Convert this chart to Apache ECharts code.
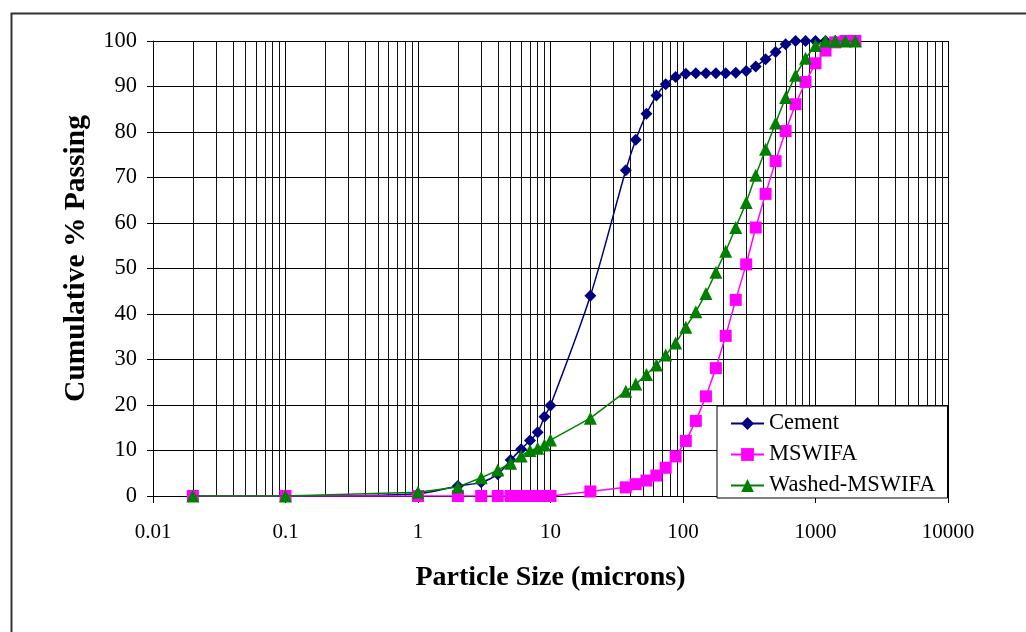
<!DOCTYPE html>
<html>
<head>
<meta charset="utf-8">
<script src="https://cdn.jsdelivr.net/npm/echarts@6/dist/echarts.min.js"></script>
<style>
html,body{margin:0;padding:0;background:#fff;}
#chart{width:1026px;height:632px;}
</style>
</head>
<body>
<div id="chart"></div>
<script>
// Particle sizes (microns)
var sizes = [0.02, 0.1, 1, 2, 3, 4, 5, 6, 7, 8, 9, 10, 20, 37, 44, 53, 63, 74, 88, 105, 125, 149, 177, 210, 250, 300, 354, 420, 500, 595, 707, 841, 1000, 1190, 1410, 1680, 2000];
// Cumulative % passing
var cement = [0, 0, 0.5, 2.2, 3.0, 4.8, 7.9, 10.3, 12.2, 14.0, 17.4, 19.9, 44, 71.6, 78.3, 84, 88, 90.5, 92.1, 92.8, 92.9, 92.9, 92.9, 92.9, 93.0, 93.4, 94.4, 96, 97.6, 99.3, 100, 100, 100, 100, 100, 100, 100];
var mswifa = [0, 0, 0, 0, 0, 0, 0, 0, 0, 0, 0, 0, 1.0, 1.9, 2.6, 3.4, 4.5, 6.2, 8.7, 12.1, 16.5, 21.9, 28.1, 35.2, 43.1, 50.9, 59, 66.4, 73.6, 80.2, 86.1, 91, 95.1, 97.9, 99.7, 100, 100];
var washed = [0, 0, 0.8, 2.0, 4.0, 5.7, 7.2, 8.8, 10.0, 10.5, 11.2, 12.3, 17.1, 23, 24.6, 26.7, 28.8, 31, 33.6, 37.1, 40.5, 44.5, 49.2, 53.8, 59, 64.5, 70.5, 76.2, 82, 87.6, 92.5, 96.2, 99, 100, 100, 100, 100];
var xTickLabels = ['0.01', '0.1', '1', '10', '100', '1000', '10000'];
var yTicks = [0, 10, 20, 30, 40, 50, 60, 70, 80, 90, 100];
var seriesNames = ['Cement', 'MSWIFA', 'Washed-MSWIFA'];

function pairs(ys) { return sizes.map(function (x, i) { return [x, ys[i]]; }); }

// minor vertical grid positions (2..9 of each decade)
var decades = [0.01, 0.1, 1, 10, 100, 1000];
var minorGrid = [];
decades.forEach(function (d) {
  for (var k = 2; k <= 9; k++) minorGrid.push({ xAxis: Number((d * k).toPrecision(6)) });
});

var FONT = 'Liberation Serif';
var chart = echarts.init(document.getElementById('chart'), null, { renderer: 'canvas' });
chart.setOption({
  animation: false,
  backgroundColor: '#fff',
  graphic: [{
    type: 'rect', left: 9, top: 11, z: 0,
    shape: { width: 1040, height: 640 },
    style: { fill: 'none', stroke: '#333', lineWidth: 2 }
  }],
  grid: { left: 153, right: 78, top: 41, bottom: 136 },
  legend: {
    data: seriesNames,
    orient: 'vertical',
    left: 717, top: 406,
    z: 50, zlevel: 0,
    backgroundColor: '#fff',
    borderColor: '#000', borderWidth: 1,
    padding: [6, 12, 1, 13],
    itemGap: 8,
    itemWidth: 33, itemHeight: 16,
    textStyle: { fontFamily: FONT, fontSize: 22.5, color: '#000' }
  },
  xAxis: {
    type: 'log', logBase: 10, min: 0.01, max: 10000,
    name: 'Particle Size (microns)',
    nameLocation: 'middle', nameGap: 68,
    nameTextStyle: { fontFamily: FONT, fontSize: 28, fontWeight: 'bold', color: '#000' },
    axisLine: { show: true, onZero: false, lineStyle: { color: '#000', width: 1 } },
    axisTick: { show: true, length: 7, lineStyle: { color: '#000' } },
    axisLabel: {
      margin: 26, fontFamily: FONT, fontSize: 21, color: '#000',
      formatter: function (v, idx) { return xTickLabels[idx] !== undefined ? xTickLabels[idx] : String(v); }
    },
    splitLine: { show: true, lineStyle: { color: '#000', width: 1 } }
  },
  yAxis: {
    type: 'value', min: 0, max: 100, interval: 10,
    name: 'Cumulative % Passing',
    nameLocation: 'middle', nameGap: 62,
    nameTextStyle: { fontFamily: FONT, fontSize: 29.5, fontWeight: 'bold', color: '#000', padding: [0, 0, 0, 20] },
    axisLine: { show: true, lineStyle: { color: '#000', width: 1 } },
    axisTick: { show: true, length: 6, lineStyle: { color: '#000' } },
    axisLabel: { margin: 16, fontFamily: FONT, fontSize: 22.5, color: '#000' },
    splitLine: { show: true, lineStyle: { color: '#000', width: 1 } }
  },
  series: [
    {
      name: 'minor', type: 'line', data: [], z: 1, silent: true,
      markLine: {
        silent: true, symbol: 'none', animation: false, z: 1,
        label: { show: false },
        lineStyle: { color: '#111', width: 1, type: 'solid' },
        data: minorGrid
      }
    },
    {
      name: seriesNames[0], type: 'line', data: pairs(cement), z: 3,
      smooth: 0.3,
      symbol: 'diamond', symbolSize: 12,
      itemStyle: { color: '#000080' },
      lineStyle: { color: '#000080', width: 1.5 }
    },
    {
      name: seriesNames[1], type: 'line', data: pairs(mswifa), z: 4,
      symbol: 'rect', symbolSize: 12,
      itemStyle: { color: '#ff00ff' },
      lineStyle: { color: '#ff00ff', width: 1.5 }
    },
    {
      name: seriesNames[2], type: 'line', data: pairs(washed), z: 5,
      symbol: 'triangle', symbolSize: 13,
      itemStyle: { color: '#008000' },
      lineStyle: { color: '#008000', width: 1.5 }
    }
  ]
});
</script>
</body>
</html>
